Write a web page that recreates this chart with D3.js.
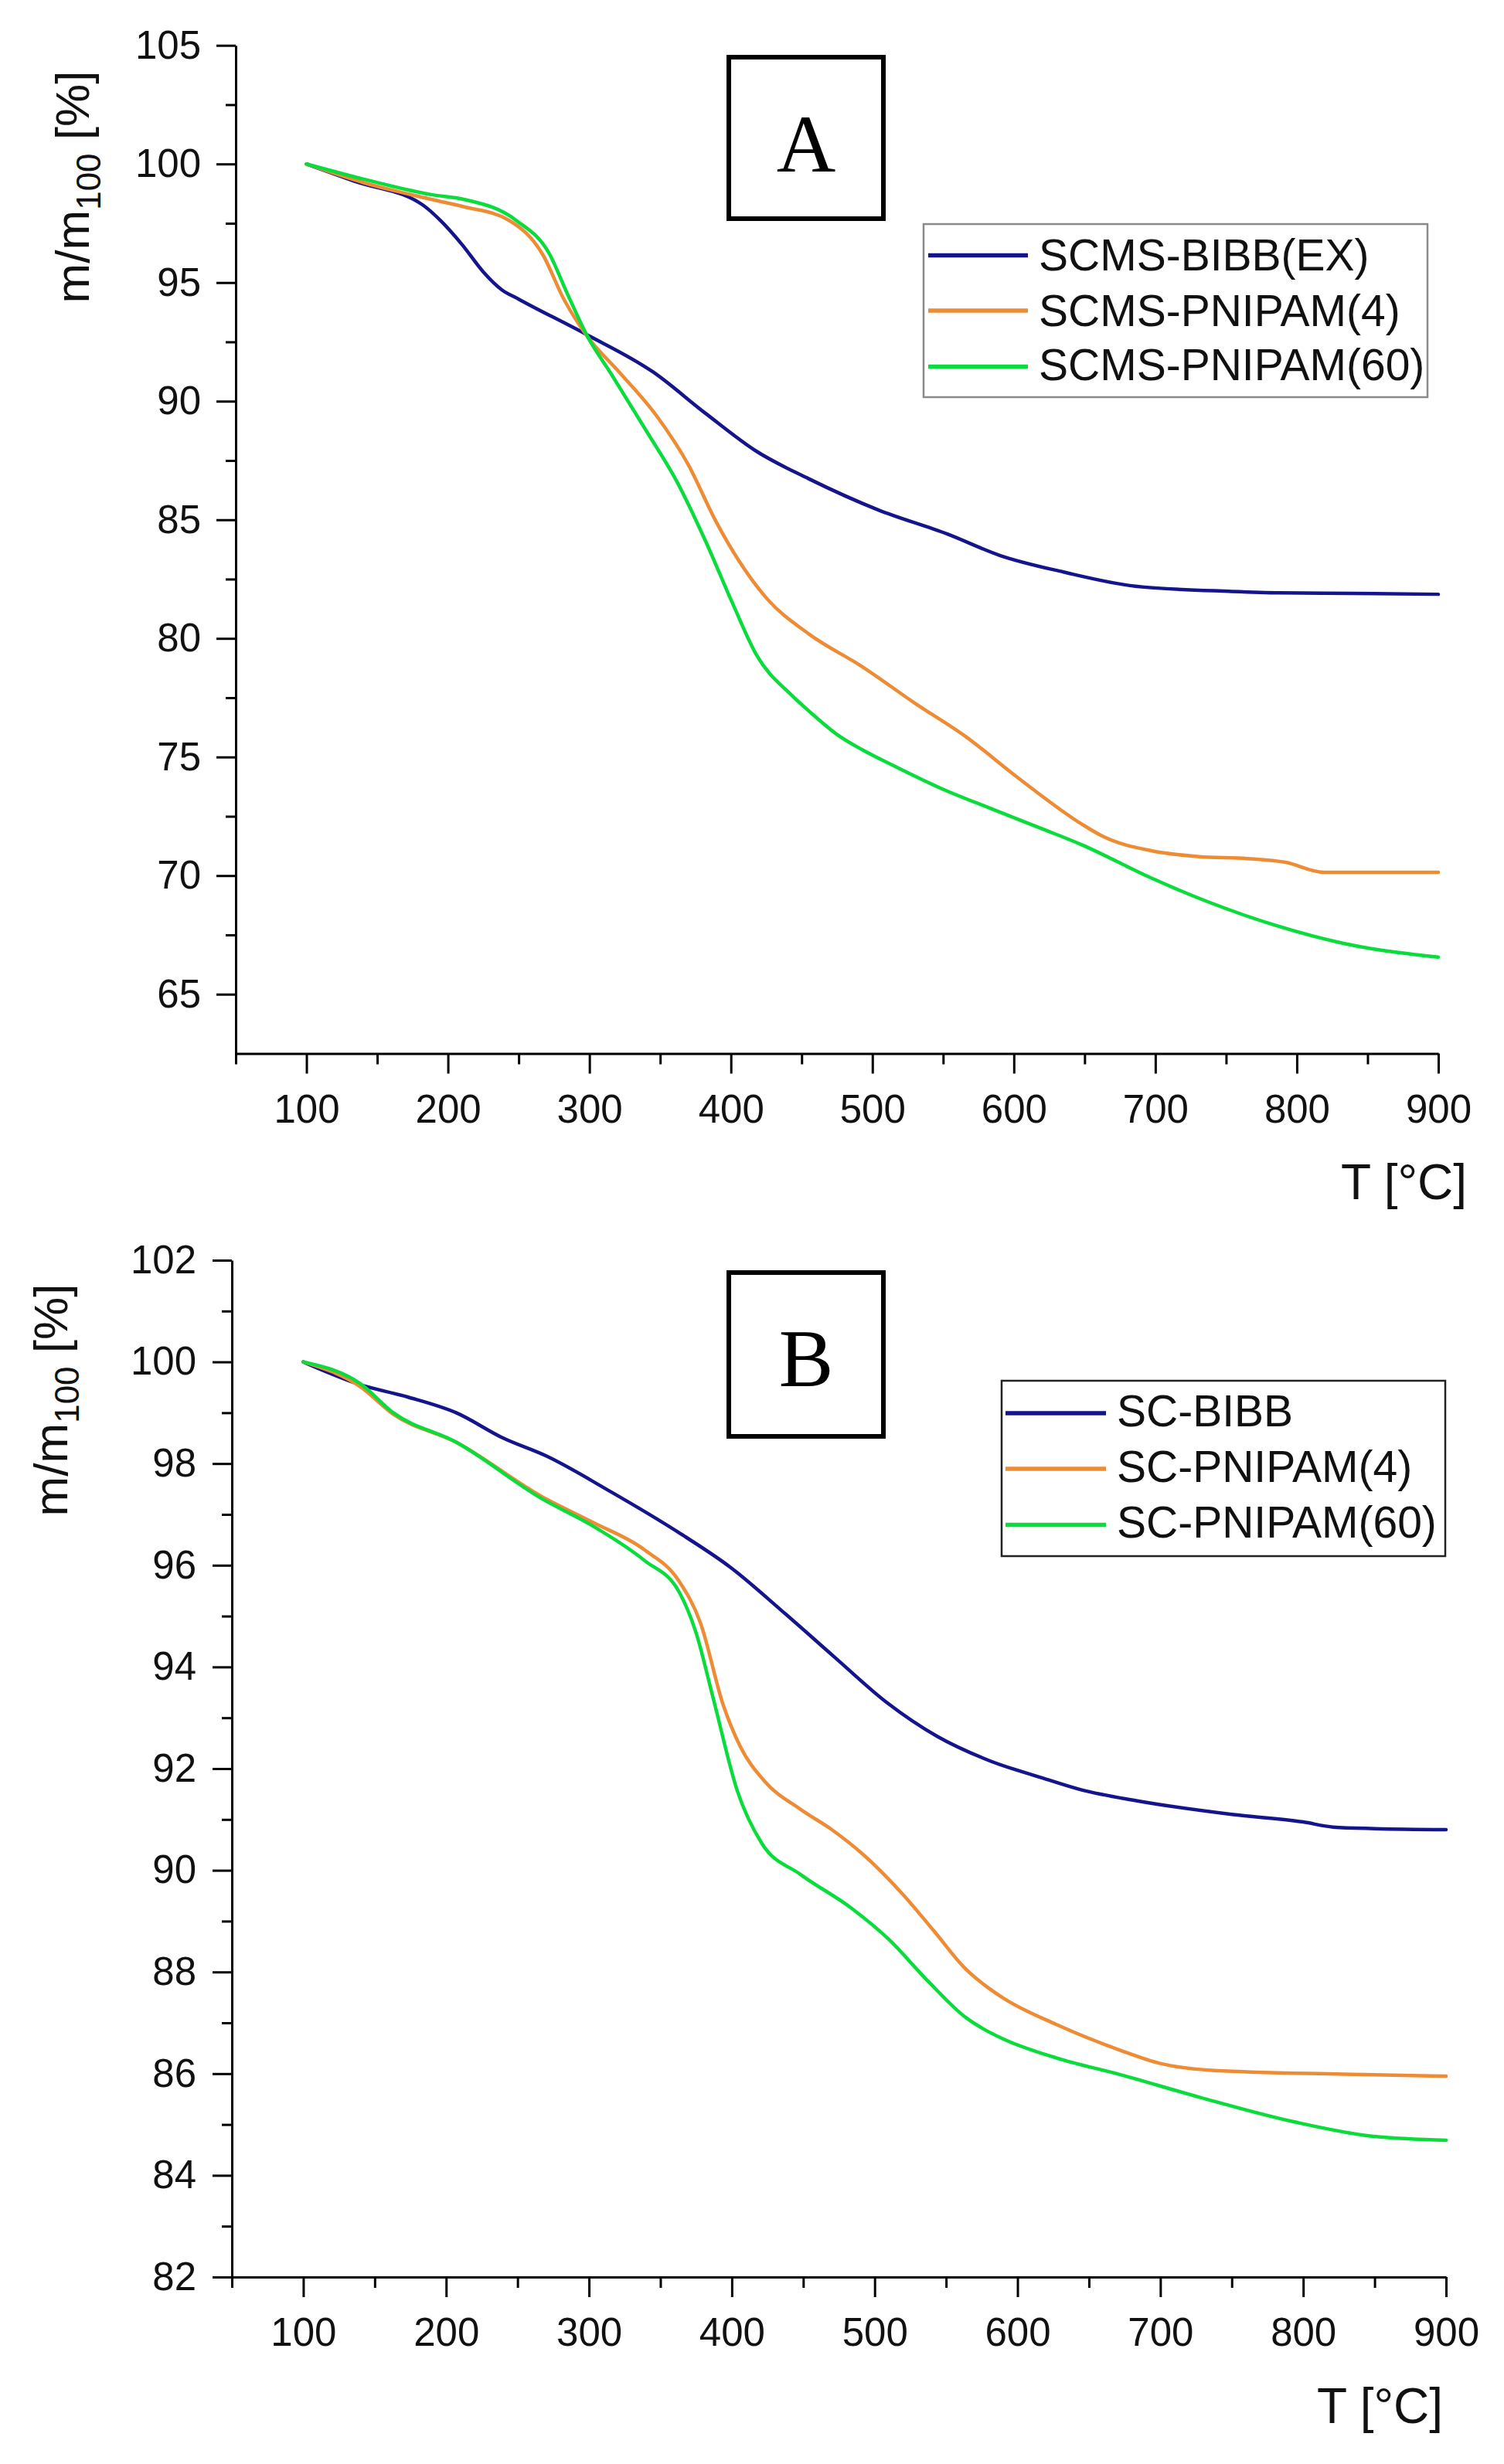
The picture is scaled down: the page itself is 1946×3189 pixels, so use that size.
<!DOCTYPE html>
<html><head><meta charset="utf-8">
<script src="https://cdn.jsdelivr.net/npm/d3@7"></script>
<style>body{margin:0;background:#fff}svg{display:block}</style>
</head><body><svg id="c" width="1946" height="3189"></svg>
<script>
// ---------- DATA ----------
const xTickValues = [100,200,300,400,500,600,700,800,900];
const xMinorTicks = [50,150,250,350,450,550,650,750,850];
const yTicksA = [65,70,75,80,85,90,95,100,105];
const yMinorA = [67.5,72.5,77.5,82.5,87.5,92.5,97.5,102.5];
const yTicksB = [82,84,86,88,90,92,94,96,98,100,102];
const yMinorB = [83,85,87,89,91,93,95,97,99,101];

const seriesNamesA = ["SCMS-BIBB(EX)","SCMS-PNIPAM(4)","SCMS-PNIPAM(60)"];
const seriesNamesB = ["SC-BIBB","SC-PNIPAM(4)","SC-PNIPAM(60)"];
const seriesColors = ["#14148c","#ee8c35","#0adc3c"];

// Panel A
const blueA_T = [100,134,182,195,210,225,238,250,297,345,382,418,455,504,553,590,635,686,754,788,839,900];
const blueA_V = [100,99.27,98.28,97.6,96.6,95.45,94.7,94.3,92.84,91.23,89.49,87.89,86.73,85.42,84.4,83.5,82.8,82.2,81.98,81.92,81.9,81.86];
const orangeA_T = [100,141,189,211,243,267,282,299,321,348,370,389,406,426,455,493,530,566,603,648,663,697,731,765,792,819,900];
const orangeA_V = [100,99.2,98.5,98.2,97.63,96.18,94.29,92.69,91.23,89.34,87.31,84.98,83.24,81.64,80.19,78.8,77.27,75.86,74.12,72.17,71.65,71.05,70.8,70.72,70.56,70.14,70.14];
const greenA_T = [100,141,189,211,248,272,284,299,316,340,362,382,401,418,443,457,475,493,512,548,584,621,648,697,737,785,833,900];
const greenA_V = [100,99.35,98.7,98.51,97.63,96.18,94.58,92.69,91.09,88.77,86.59,84.11,81.5,79.31,77.6,76.84,75.95,75.3,74.72,73.69,72.82,71.95,71.3,69.9,68.9,67.9,67.14,66.56];

// Panel B
const blueB_T = [100,140,173,207,240,270,315,363,399,436,472,508,544,580,617,645,683,750,800,821,850,900];
const blueB_V = [100,99.55,99.31,99.0,98.5,98.15,97.45,96.64,95.96,95.08,94.19,93.31,92.63,92.16,91.82,91.58,91.37,91.1,90.95,90.85,90.82,90.8];
const orangeB_T = [100,140,163,207,267,303,339,363,378,394,406,423,448,470,492,519,542,564,578,591,627,672,700,734,828,900];
const orangeB_V = [100,99.51,98.97,98.42,97.35,96.84,96.3,95.69,94.87,93.25,92.43,91.75,91.2,90.8,90.31,89.55,88.79,88.05,87.72,87.47,86.97,86.46,86.2,86.07,85.99,85.95];
const greenB_T = [100,140,163,207,267,301,339,363,375,387,404,421,448,484,510,537,564,578,591,627,672,727,794,848,900];
const greenB_V = [100,99.57,99.0,98.42,97.31,96.8,96.09,95.48,94.67,93.38,91.55,90.53,89.92,89.25,88.64,87.83,87.1,86.85,86.67,86.31,85.98,85.54,85.05,84.77,84.69];

// ---------- DRAW ----------
const svg = d3.select("#c");
svg.append("rect").attr("width",1946).attr("height",3189).attr("fill","#fff");
const SANS = "'Liberation Sans', Arial, sans-serif";
const SERIF = "'Liberation Serif', 'Times New Roman', serif";

function zip(T,V){ return T.map((t,i)=>({t, v:V[i]})); }

function panel(cfg){
  const g = svg.append("g");
  const x = d3.scaleLinear().domain([50,900]).range(cfg.xr);
  const y = d3.scaleLinear().domain(cfg.yd).range(cfg.yr);
  const x0 = cfg.xr[0], yb = cfg.yr[0];

  // minor ticks
  g.append("g").attr("transform",`translate(${x0},0)`)
    .call(d3.axisLeft(y).tickValues(cfg.yMinor).tickSize(13).tickFormat("").tickSizeOuter(0))
    .call(s=>{s.select(".domain").remove(); s.selectAll("line").attr("stroke","#000").attr("stroke-width",3);});
  g.append("g").attr("transform",`translate(0,${yb})`)
    .call(d3.axisBottom(x).tickValues(xMinorTicks).tickSize(14).tickFormat("").tickSizeOuter(0))
    .call(s=>{s.select(".domain").remove(); s.selectAll("line").attr("stroke","#000").attr("stroke-width",3);});

  // major axes
  const ya = g.append("g").attr("transform",`translate(${x0},0)`)
    .call(d3.axisLeft(y).tickValues(cfg.yTicks).tickSize(25).tickPadding(cfg.yPad).tickSizeOuter(0));
  const xa = g.append("g").attr("transform",`translate(0,${yb})`)
    .call(d3.axisBottom(x).tickValues(xTickValues).tickSize(26).tickPadding(27).tickSizeOuter(0));
  [ya,xa].forEach(a=>{
    a.select(".domain").attr("stroke","#000").attr("stroke-width",3);
    a.selectAll(".tick line").attr("stroke","#000").attr("stroke-width",3);
    a.selectAll(".tick text").attr("fill","#111").style("font-family",SANS).style("font-size","51px");
  });

  // curves
  const line = d3.line().x(d=>x(d.t)).y(d=>y(d.v)).curve(d3.curveMonotoneX);
  cfg.series.forEach((s,i)=>{
    g.append("path").datum(zip(s[0],s[1])).attr("d",line)
      .attr("fill","none").attr("stroke",seriesColors[i]).attr("stroke-width",4.5)
      .attr("stroke-linejoin","round").attr("stroke-linecap","round");
  });

  // y title
  const yt = g.append("text").attr("transform",`rotate(-90)`)
    .attr("x",-cfg.ytCenter).attr("y",cfg.ytBase).attr("text-anchor","middle")
    .style("font-family",SANS).style("font-size","62px").attr("fill","#111");
  yt.append("tspan").text("m/m");
  yt.append("tspan").attr("dy",15).style("font-size","44px").text("100");
  yt.append("tspan").attr("dy",-15).text(" [%]");

  // x title
  g.append("text").attr("x",cfg.xtRight).attr("y",cfg.xtBase).attr("text-anchor","end")
    .style("font-family",SANS).style("font-size","64px").attr("fill","#111").text("T [°C]");

  // label box
  g.append("rect").attr("x",943).attr("y",cfg.boxY).attr("width",200).attr("height",cfg.boxH)
    .attr("fill","#fff").attr("stroke","#000").attr("stroke-width",6);
  g.append("text").attr("x",1043).attr("y",cfg.boxBase).attr("text-anchor","middle")
    .style("font-family",SERIF).style("font-size","106px").attr("fill","#000").text(cfg.label);

  // legend
  const L = cfg.legend;
  g.append("rect").attr("x",L.x).attr("y",L.y).attr("width",L.w).attr("height",L.h)
    .attr("fill","#fff").attr("stroke",L.stroke).attr("stroke-width",2.5);
  cfg.names.forEach((n,i)=>{
    g.append("line").attr("x1",L.lx1).attr("x2",L.lx2).attr("y1",L.ly[i]).attr("y2",L.ly[i])
      .attr("stroke",seriesColors[i]).attr("stroke-width",5.5);
    g.append("text").attr("x",L.tx).attr("y",L.tb[i]).style("font-family",SANS)
      .style("font-size","57px").attr("fill","#111").text(n);
  });
}

panel({
  xr:[305,1861], yd:[62.5,105], yr:[1363.5,58.7],
  yTicks:yTicksA, yMinor:yMinorA, yPad:20,
  series:[[blueA_T,blueA_V],[orangeA_T,orangeA_V],[greenA_T,greenA_V]],
  names:seriesNamesA,
  ytCenter:242, ytBase:115, xtRight:1898, xtBase:1552,
  boxY:74, boxH:209, boxBase:222, label:"A",
  legend:{x:1195,y:290,w:652,h:224,stroke:"#8a8a8a",lx1:1201,lx2:1330,ly:[330.6,402,474.5],tx:1344,tb:[349.5,422,492]}
});
panel({
  xr:[300,1871], yd:[82,102], yr:[2947,1631],
  yTicks:yTicksB, yMinor:yMinorB, yPad:21,
  series:[[blueB_T,blueB_V],[orangeB_T,orangeB_V],[greenB_T,greenB_V]],
  names:seriesNamesB,
  ytCenter:1812, ytBase:87, xtRight:1867, xtBase:3136,
  boxY:1647, boxH:212, boxBase:1794, label:"B",
  legend:{x:1296,y:1787,w:574,h:227,stroke:"#222",lx1:1301,lx2:1431,ly:[1829,1901,1973.5],tx:1445,tb:[1846,1918,1990]}
});
</script></body></html>
